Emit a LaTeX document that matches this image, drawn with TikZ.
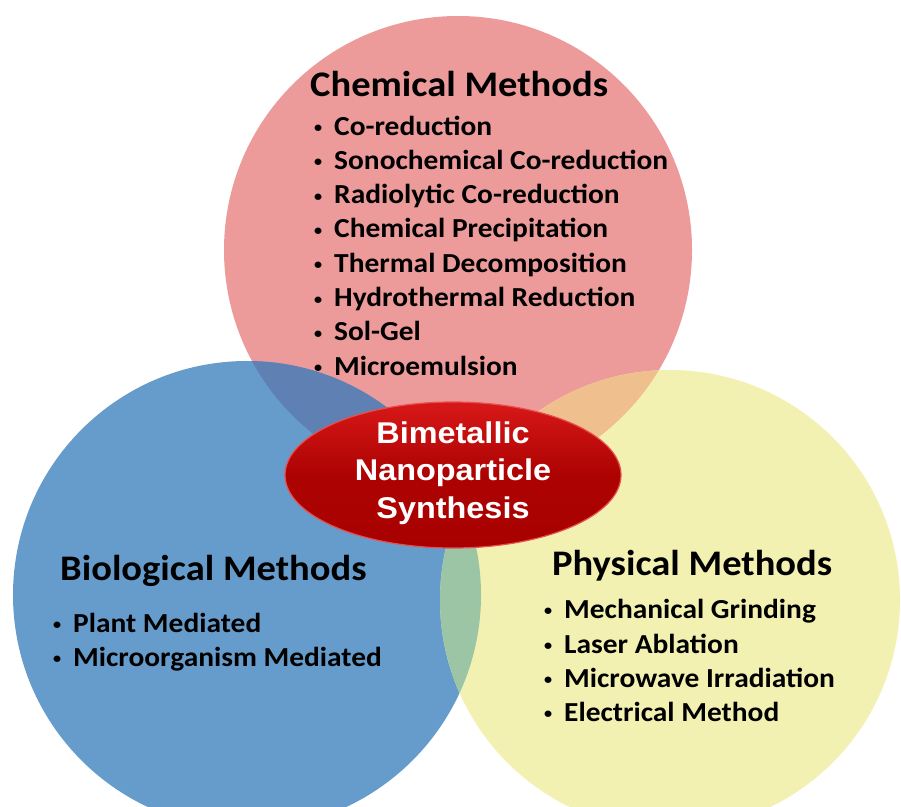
\documentclass[tikz,border=0pt]{standalone}
\usepackage{fontspec}
\setmainfont{Carlito}[FakeStretch=1.07]
\newfontfamily\arialb{Liberation Sans}[FakeStretch=1.08]
\usetikzlibrary{shapes.geometric}
\definecolor{redc}{HTML}{EC9A9A}
\definecolor{bluec}{HTML}{659CCB}
\definecolor{yellowc}{HTML}{F3F1B1}
\definecolor{rbc}{HTML}{5F80B3}
\definecolor{ryc}{HTML}{F0BF8E}
\definecolor{byc}{HTML}{9CC5A5}
\definecolor{coretop}{HTML}{D81818}
\definecolor{corebot}{HTML}{A80000}
\definecolor{coreedge}{HTML}{E85050}
\tikzset{
  circ/.style={circle, inner sep=0pt, minimum size=468pt},
  head/.style={anchor=base west, inner sep=0pt, font=\fontsize{36}{40}\selectfont\bfseries},
  itm/.style={anchor=base west, inner sep=0pt, font=\fontsize{27.5}{30}\selectfont\bfseries},
}
\newcommand{\bul}[1]{\makebox[22pt][l]{\hspace{2pt}\raisebox{0.09em}{\scalebox{0.55}{\textbullet}}}#1}
\begin{document}
\begin{tikzpicture}[x=1pt,y=-1pt]
\useasboundingbox (0,0) rectangle (901,806);
\clip (0,0) rectangle (901,806);
\fill[white] (0,0) rectangle (901,806);
% circles
\node[circ, fill=redc] (chem) at (458,250) {};
\node[circ, fill=bluec] (bio) at (247,595) {};
\node[circ, fill=yellowc, minimum size=460pt] (phys) at (670,600) {};
% overlaps
\begin{scope}
  \clip (chem.center) circle (234pt);
  \fill[rbc] (bio.center) circle (234pt);
  \fill[ryc] (phys.center) circle (230pt);
\end{scope}
\begin{scope}
  \clip (bio.center) circle (234pt);
  \fill[byc] (phys.center) circle (230pt);
\end{scope}
% core
\node[ellipse, minimum width=336pt, minimum height=146pt, top color=coretop, bottom color=corebot, middle color=corebot!90!coretop, draw=coreedge, line width=1.2pt] (core) at (453,475) {};
\node[inner sep=0pt, align=center, text=white, font=\arialb\fontsize{30}{37.5}\selectfont\bfseries] (coretext) at (453,473) {Bimetallic\\Nanoparticle\\Synthesis};
% chemical
\node[head] (chemh) at (310,96) {Chemical Methods};
\node[itm] (c1) at (312,135) {\bul{Co-reduction}};
\node[itm] (c2) at (312,169.3) {\bul{Sonochemical Co-reduction}};
\node[itm] (c3) at (312,203.6) {\bul{Radiolytic Co-reduction}};
\node[itm] (c4) at (312,237.9) {\bul{Chemical Precipitation}};
\node[itm] (c5) at (312,272.2) {\bul{Thermal Decomposition}};
\node[itm] (c6) at (312,306.5) {\bul{Hydrothermal Reduction}};
\node[itm] (c7) at (312,340.8) {\bul{Sol-Gel}};
\node[itm] (c8) at (312,375) {\bul{Microemulsion}};
% biological
\node[head] (bioh) at (60,580) {Biological Methods};
\node[itm] (b1) at (51,632) {\bul{Plant Mediated}};
\node[itm] (b2) at (51,666) {\bul{Microorganism Mediated}};
% physical
\node[head] (physh) at (552,575) {Physical Methods};
\node[itm] (p1) at (542,618) {\bul{Mechanical Grinding}};
\node[itm] (p2) at (542,653) {\bul{Laser Ablation}};
\node[itm] (p3) at (542,687) {\bul{Microwave Irradiation}};
\node[itm] (p4) at (542,721) {\bul{Electrical Method}};
\end{tikzpicture}
\end{document}
